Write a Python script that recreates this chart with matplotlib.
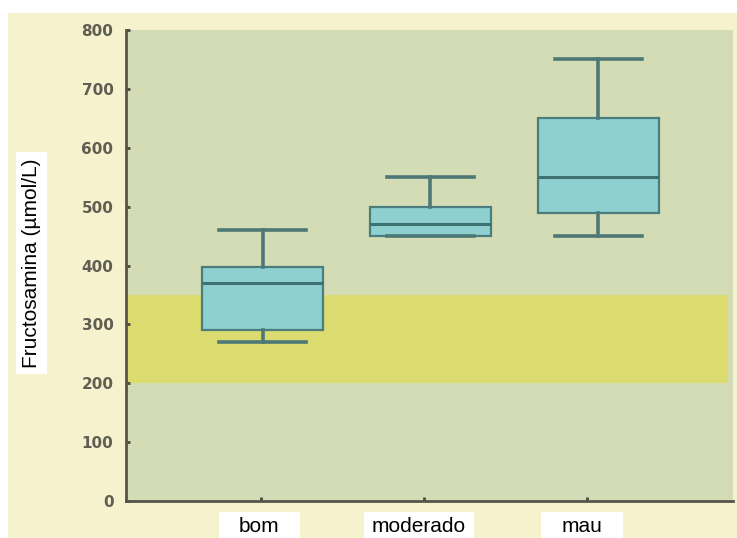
import matplotlib
matplotlib.use("Agg")
import matplotlib.pyplot as plt
from matplotlib.patches import Rectangle
from matplotlib.transforms import blended_transform_factory

# Fructosamine by glycaemic control group
categories = ["bom", "moderado", "mau"]
whisker_low = [270, 450, 450]
q1 = [290, 450, 490]
median = [370, 470, 550]
q3 = [397, 500, 650]
whisker_high = [460, 550, 750]

ref_low, ref_high = 200, 350          # reference range band
y_ticks = [0, 100, 200, 300, 400, 500, 600, 700, 800]
y_label = "Fructosamina (µmol/L)"

cream = "#f6f2cd"
green = "#d3dcb4"
band = "#dcdb6f"
box_fill = "#8ecfcf"
box_edge = "#4a7e7e"
dark = "#4d7876"

fig = plt.figure(figsize=(7.37, 5.38), dpi=100, facecolor="white")
W, H = 737, 538

# cream backdrop behind everything
fig.patches.append(Rectangle((8 / W, 0), 1 - 8 / W, 1 - 13 / H,
                             transform=fig.transFigure, facecolor=cream,
                             edgecolor="none", zorder=-10))

ax = fig.add_axes([126 / W, 1 - 501 / H, (733 - 126) / W, (501 - 30) / H])
ax.set_facecolor(green)

ax.axhspan(ref_low, ref_high, xmin=0, xmax=(728 - 126) / (733 - 126),
           facecolor=band, edgecolor="none", zorder=1)

stats = []
for i in range(len(categories)):
    stats.append(dict(med=median[i], q1=q1[i], q3=q3[i],
                      whislo=whisker_low[i], whishi=whisker_high[i],
                      label=categories[i]))

box_pos = [1.01, 2.04, 3.07]
ax.bxp(stats, positions=box_pos, widths=0.74, capwidths=0.53,
       showfliers=False, patch_artist=True,
       boxprops=dict(facecolor=box_fill, edgecolor=box_edge, linewidth=1.6),
       medianprops=dict(color="#3e7270", linewidth=2.2),
       whiskerprops=dict(color=dark, linewidth=2.6),
       capprops=dict(color=dark, linewidth=2.6),
       zorder=3)

ax.set_xlim(0.172, 3.896)
ax.set_ylim(0, 800)
ax.set_xticks([1, 2, 3])
ax.set_xticklabels([])
ax.set_yticks(y_ticks)
ax.set_yticklabels([str(v) for v in y_ticks], fontsize=11,
                   fontweight="bold", color="#5e5e52")
ax.tick_params(axis="both", direction="in", length=3, width=2,
               color="#4a4a3e", pad=9)

for side in ["top", "right"]:
    ax.spines[side].set_visible(False)
for side in ["left", "bottom"]:
    ax.spines[side].set_color("#55554a")
    ax.spines[side].set_linewidth(2)

# category names on white tabs under the axis
trans = blended_transform_factory(ax.transData, fig.transFigure)
tab_w = [0.5, 0.68, 0.5]
tab_x = [0.99, 1.97, 2.97]
for name, x, w in zip(categories, tab_x, tab_w):
    ax.add_patch(Rectangle((x - w / 2, 0), w, 1 - 512 / H, transform=trans,
                           facecolor="white", edgecolor="none",
                           clip_on=False, zorder=5))
    ax.text(x, 1 - 527 / H, name, transform=trans, ha="center", va="center",
            fontsize=15, family="Liberation Sans", color="black",
            clip_on=False, zorder=6)

fig.text(31.5 / W, 1 - 263 / H, y_label, rotation=90, ha="center",
         va="center", fontsize=15, family="Liberation Sans", color="black",
         bbox=dict(boxstyle="square,pad=0.3", facecolor="white",
                   edgecolor="none"))

fig.savefig("out.png", dpi=100, facecolor="white")
